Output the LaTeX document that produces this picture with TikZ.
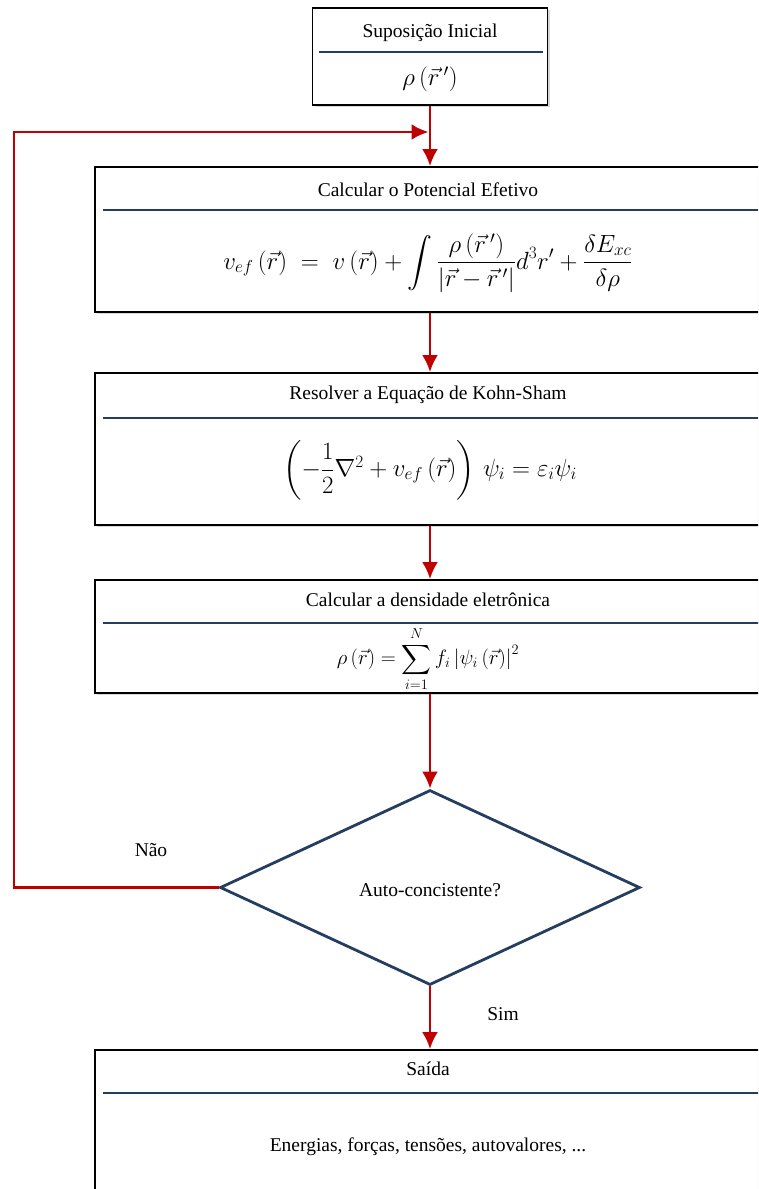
\documentclass[tikz,border=0pt]{standalone}
\usepackage{amsmath}
\usepackage{fontspec}
\setmainfont{Liberation Serif}
\usepackage{tikz}
\usetikzlibrary{arrows.meta,positioning,shapes.geometric,shadows}
\definecolor{darkred}{RGB}{192,0,0}
\definecolor{navy}{RGB}{36,62,96}

\begin{document}
\begin{tikzpicture}[x=1pt,y=-1pt,
  box/.style={draw,line width=1.8pt,fill=white,inner sep=0pt,
              drop shadow={shadow xshift=2pt,shadow yshift=-2pt,fill=black!30}},
  rule/.style={draw=navy,line width=2.8pt},
  ttl/.style={font=\fontsize{19.5}{23}\selectfont,inner sep=1pt},
  eqn/.style={font=\fontsize{24}{28}\selectfont,inner sep=0pt},
  arr/.style={-{Latex[length=17pt,width=16pt]},draw=darkred,line width=2.8pt},
  decision/.style={diamond,draw=navy,line width=2.8pt,inner sep=0pt,
                   minimum width=420pt,minimum height=195pt}
]
\useasboundingbox (0,0) rectangle (758,1189);
\clip (0,0) rectangle (758,1189);

% initial guess
\node[box,minimum width=235pt,minimum height=97pt] (init) at (430,56.5) {};
\node[ttl] (initT) at (430,33) {Suposição Inicial};
\draw[rule] (319,52) -- (543,52);
\node[eqn,font=\fontsize{26}{30}\selectfont] (initE) at (430,79)
  {$\rho\left(\vec{r}\,'\right)$};

% effective potential
\node[box,minimum width=725pt,minimum height=145pt] (calc) at (457.5,239.5) {};
\node[ttl] (calcT) at (428,190) {Calcular o Potencial Efetivo};
\draw[rule] (103,210) -- (800,210);
\node[eqn,font=\fontsize{26}{30}\selectfont] (calcE) at (428,263)
  {$v_{ef}\left(\vec{r}\right)\;=\;v\left(\vec{r}\right)+\displaystyle\int
   \frac{\rho\left(\vec{r}\,'\right)}{\left|\vec{r}-\vec{r}\,'\right|}d^3r'
   +\frac{\delta E_{xc}}{\delta\rho}$};

% Kohn-Sham
\node[box,minimum width=725pt,minimum height=152pt] (ks) at (457.5,449) {};
\node[ttl] (ksT) at (428,395) {Resolver a Equação de Kohn-Sham};
\draw[rule] (103,418) -- (800,418);
\node[eqn,font=\fontsize{23}{27}\selectfont] (ksE) at (430,470)
  {$\left(-\dfrac{1}{2}\nabla^2+v_{ef}\left(\vec{r}\right)\right)\,\psi_i
   =\varepsilon_i\psi_i$};

% density
\node[box,minimum width=725pt,minimum height=113pt] (dens) at (457.5,636.5) {};
\node[ttl] (densT) at (428,600) {Calcular a densidade eletrônica};
\draw[rule] (103,623) -- (800,623);
\node[eqn,font=\fontsize{21}{25}\selectfont] (densE) at (428,659)
  {$\rho\left(\vec{r}\right)=\displaystyle\sum_{i=1}^{N}f_i
   \left|\psi_i\left(\vec{r}\right)\right|^2$};

% self-consistency test
\node[decision] (dec) at (430,887.5) {};
\node[ttl] (decT) at (430,890) {Auto-concistente?};
\node[ttl] (nao) at (151,850) {Não};
\node[ttl] (sim) at (503,1014) {Sim};

% output
\node[box,minimum width=725pt,minimum height=200pt] (out) at (457.5,1150) {};
\node[ttl] (outT) at (428,1069) {Saída};
\draw[rule] (103,1093) -- (800,1093);
\node[ttl] (outE) at (428,1147) {Energias, forças, tensões, autovalores, ...};

% flow
\coordinate (loop) at (14,132);
\draw[arr] (init) -- (init |- calc.north);
\draw[arr] (calc.south -| init) -- (ks.north -| init);
\draw[arr] (ks.south -| init) -- (dens.north -| init);
\draw[arr] (dens.south -| dec) -- (dec.north);
\draw[arr] (dec.south) -- (out.north -| dec.south);
\draw[arr,shorten >=1.5pt] (dec.west) -| (loop) -- (loop -| init);
\end{tikzpicture}
\end{document}
